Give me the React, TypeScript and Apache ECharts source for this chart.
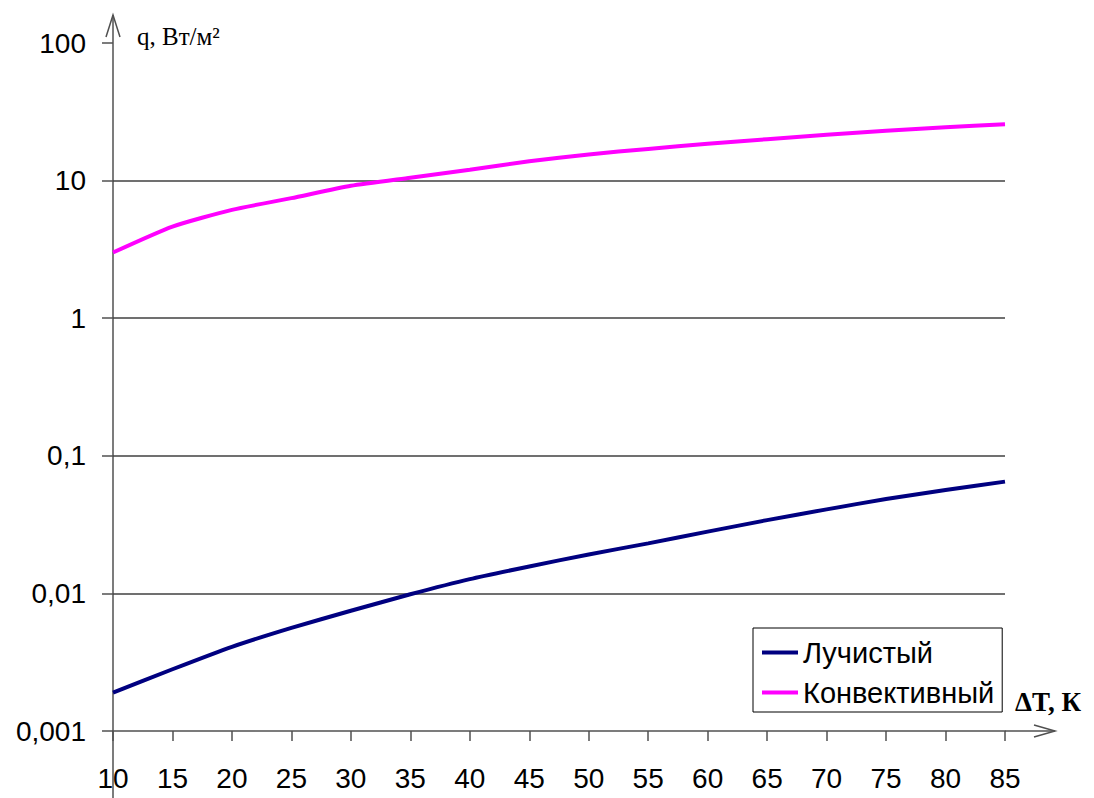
import React, { useEffect, useRef } from "react";
import * as echarts from "echarts";

// Temperature difference, K
const deltaT = [10, 15, 20, 25, 30, 35, 40, 45, 50, 55, 60, 65, 70, 75, 80, 85];
// Heat flux, W/m²
const radiant = [
  0.0019, 0.00281, 0.00409, 0.00562, 0.00748, 0.00985, 0.0127, 0.0157, 0.0192,
  0.0231, 0.0281, 0.0341, 0.0408, 0.0485, 0.0564, 0.0649,
];
const convective = [
  3.0, 4.63, 6.13, 7.46, 9.17, 10.5, 12.0, 13.8, 15.5, 17.0, 18.5, 20.0, 21.5,
  23.0, 24.4, 25.7,
];
const seriesNames = ["Лучистый", "Конвективный"];
const yTickLabels = ["0,001", "0,01", "0,1", "1", "10", "100"];

const AXIS = "#505050";
const SANS = "'Liberation Sans', Arial, sans-serif";
const SERIF = "'Liberation Serif', 'Times New Roman', serif";

export default function App() {
  const ref = useRef<HTMLDivElement>(null);

  useEffect(() => {
    const chart = echarts.init(ref.current!, null, { renderer: "svg" });
    chart.setOption({
      animation: false,
      backgroundColor: "#ffffff",
      grid: { left: 113, right: 89, top: 43, bottom: 67, containLabel: false },
      xAxis: {
        type: "value",
        min: 10,
        max: 85,
        interval: 5,
        axisLine: { show: true, onZero: false, lineStyle: { color: AXIS, width: 1.5 } },
        axisTick: { show: true, length: 10, lineStyle: { color: AXIS, width: 1.5 } },
        axisLabel: { margin: 33, fontFamily: SANS, fontSize: 28, color: "#000" },
        splitLine: { show: false },
      },
      yAxis: {
        type: "log",
        logBase: 10,
        min: 0.001,
        max: 100,
        axisLine: { show: false, onZero: false },
        axisTick: { show: true, length: 11, lineStyle: { color: AXIS, width: 1.5 } },
        axisLabel: {
          margin: 27,
          fontFamily: SANS,
          fontSize: 28,
          color: "#000",
          formatter: (v: number) => yTickLabels[Math.round(Math.log10(v)) + 3],
        },
        splitLine: {
          show: true,
          showMinLine: false,
          showMaxLine: false,
          lineStyle: { color: "#404040", width: 1.5 },
        },
      },
      legend: {
        orient: "vertical",
        left: 753,
        top: 628,
        padding: [9, 8, 4, 9],
        itemGap: 9,
        itemWidth: 36,
        itemHeight: 4,
        icon: "rect",
        borderColor: "#000",
        borderWidth: 1,
        borderRadius: 0,
        backgroundColor: "#fff",
        textStyle: { fontFamily: SANS, fontSize: 29, color: "#000", lineHeight: 31 },
        data: seriesNames,
      },
      series: [
        {
          name: seriesNames[0],
          type: "line",
          data: deltaT.map((t, i) => [t, radiant[i]]),
          showSymbol: false,
          symbol: "none",
          smooth: 0.2,
          lineStyle: { color: "#000080", width: 4 },
          itemStyle: { color: "#000080" },
        },
        {
          name: seriesNames[1],
          type: "line",
          data: deltaT.map((t, i) => [t, convective[i]]),
          showSymbol: false,
          symbol: "none",
          smooth: 0.2,
          lineStyle: { color: "#ff00ff", width: 4 },
          itemStyle: { color: "#ff00ff" },
        },
      ],
      graphic: [
        // vertical axis with arrow
        { type: "line", shape: { x1: 113, y1: 15, x2: 113, y2: 798 }, style: { stroke: AXIS, lineWidth: 1.5 } },
        {
          type: "polyline",
          shape: { points: [[106, 37], [113, 15], [120, 37]] },
          style: { stroke: AXIS, lineWidth: 1.5, fill: null },
        },
        // horizontal axis extension with arrow
        { type: "line", shape: { x1: 1005, y1: 731, x2: 1055, y2: 731 }, style: { stroke: AXIS, lineWidth: 1.5 } },
        {
          type: "polyline",
          shape: { points: [[1034, 725], [1055, 731], [1034, 737]] },
          style: { stroke: AXIS, lineWidth: 1.5, fill: null },
        },
        {
          type: "text",
          x: 137,
          y: 36,
          style: {
            text: "q, Вт/м²",
            font: `25px ${SERIF}`,
            fill: "#000",
            textVerticalAlign: "middle",
          },
        },
        {
          type: "text",
          x: 1015,
          y: 702,
          style: {
            text: "ΔT, К",
            font: `bold 27px ${SERIF}`,
            fill: "#000",
            textVerticalAlign: "middle",
          },
        },
      ],
    });
    return () => chart.dispose();
  }, []);

  return (
    <div
      ref={ref}
      style={{ position: "absolute", left: 0, top: 0, width: 1094, height: 798 }}
    />
  );
}
